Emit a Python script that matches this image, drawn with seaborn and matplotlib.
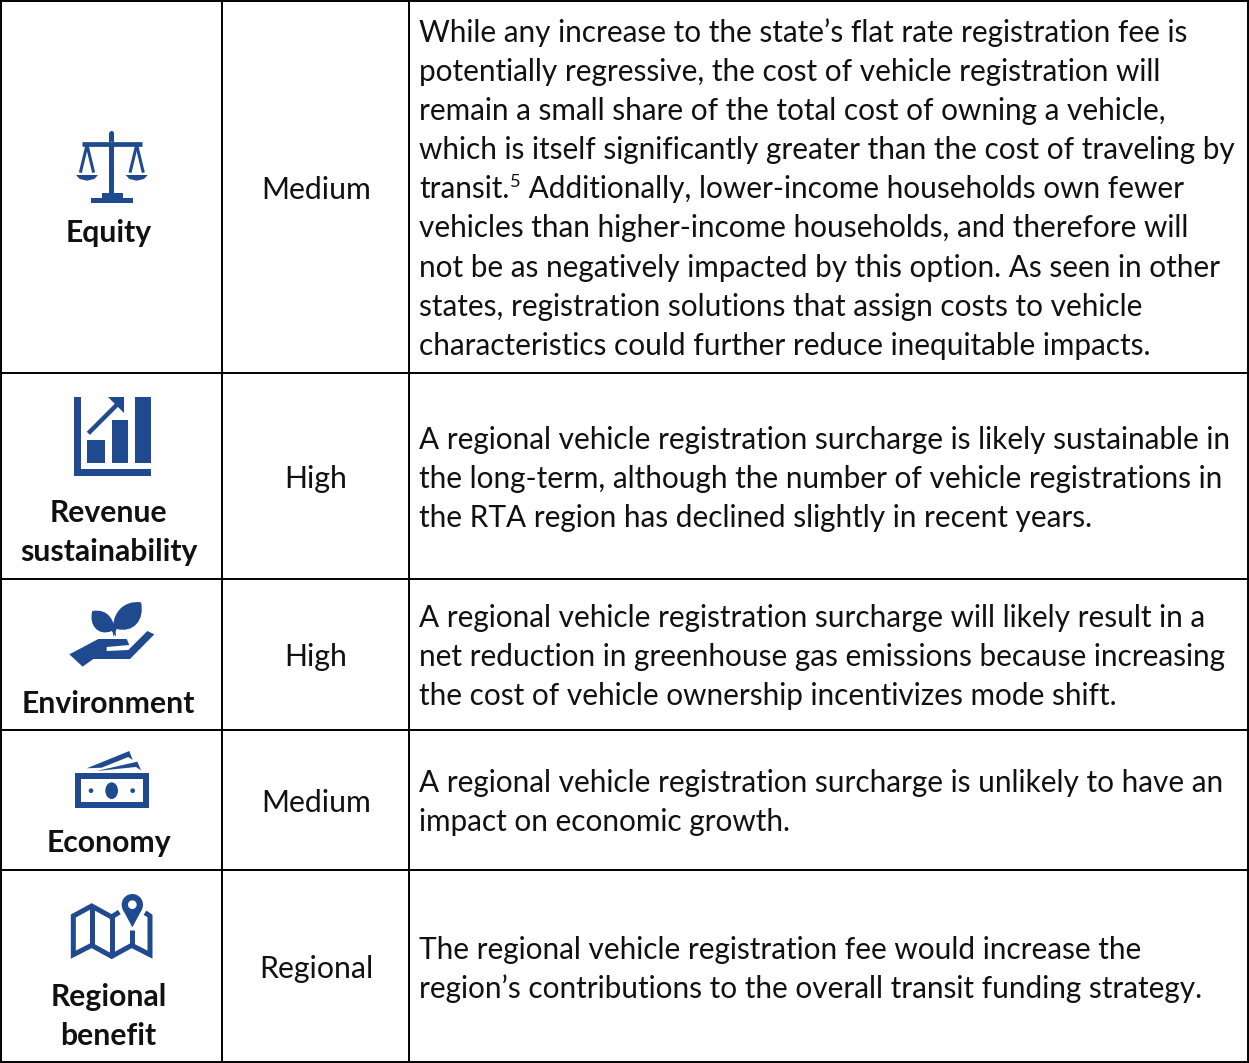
import matplotlib
matplotlib.use("Agg")
import matplotlib.pyplot as plt
import seaborn as sns
from matplotlib.patches import Polygon, Circle, Ellipse, PathPatch
from matplotlib.path import Path

criteria = [["Equity"], ["Revenue", "sustainability"], ["Environment"], ["Economy"], ["Regional", "benefit"]]
ratings = ["Medium", "High", "High", "Medium", "Regional"]
notes = [
    ["While any increase to the state’s flat rate registration fee is",
     "potentially regressive, the cost of vehicle registration will",
     "remain a small share of the total cost of owning a vehicle,",
     "which is itself significantly greater than the cost of traveling by",
     "transit.",
     "vehicles than higher-income households, and therefore will",
     "not be as negatively impacted by this option. As seen in other",
     "states, registration solutions that assign costs to vehicle",
     "characteristics could further reduce inequitable impacts."],
    ["A regional vehicle registration surcharge is likely sustainable in",
     "the long-term, although the number of vehicle registrations in",
     "the RTA region has declined slightly in recent years."],
    ["A regional vehicle registration surcharge will likely result in a",
     "net reduction in greenhouse gas emissions because increasing",
     "the cost of vehicle ownership incentivizes mode shift."],
    ["A regional vehicle registration surcharge is unlikely to have an",
     "impact on economic growth."],
    ["The regional vehicle registration fee would increase the",
     "region’s contributions to the overall transit funding strategy."],
]
footnote = "5"
after_footnote = " Additionally, lower-income households own fewer"

row_edges = [1, 373, 579, 730, 870, 1062]
col_edges = [1, 222, 409, 1248]
note_baselines = [42, 449, 627, 792, 959]
label_baselines = [242, 522, 713, 852, 1006]
rating_baselines = [199, 488, 666, 812, 978]
PITCH = 39.1
BLUE = "#1f4a8f"
BLACK = "#111111"

sns.set_theme(style="white")
plt.rcParams["font.family"] = ["Lato", "DejaVu Sans"]

fig, ax = plt.subplots(figsize=(12.49, 10.63), dpi=100)
ax.set_position([0, 0, 1, 1])
ax.set_xlim(0, 1249)
ax.set_ylim(1063, 0)
ax.axis("off")

# table rules
ax.hlines(row_edges, 0, 1249, color="black", lw=1.4)
ax.vlines(col_edges, 0, 1063, color="black", lw=1.4)

FS = 21.4
for i, lines in enumerate(notes):
    for j, line in enumerate(lines):
        y = note_baselines[i] + j * PITCH
        t = ax.text(419, y, line, fontsize=FS, color=BLACK, va="baseline")
        if i == 0 and line == "transit.":
            r = fig.canvas.get_renderer()
            x1 = ax.transData.inverted().transform(t.get_window_extent(r).get_points())[1, 0]
            fn = ax.text(x1 + 1, y - 11, footnote, fontsize=FS * 0.62, color=BLACK, va="baseline")
            x2 = ax.transData.inverted().transform(fn.get_window_extent(r).get_points())[1, 0]
            ax.text(x2, y, after_footnote, fontsize=FS, color=BLACK, va="baseline")

for i, rating in enumerate(ratings):
    ax.text(316, rating_baselines[i], rating, fontsize=21.8, color=BLACK, ha="center", va="baseline")

for i, label in enumerate(criteria):
    for j, line in enumerate(label):
        ax.text(108.5, label_baselines[i] + j * PITCH, line, fontsize=21.7, fontweight="bold", color=BLACK, ha="center", va="baseline")


# icons, drawn in the 3x space of the crops
def to_px(pts, x0, y0):
    return [(x0 + a / 3, y0 + b / 3) for a, b in pts]

def poly(pts, x0, y0, fc=BLUE):
    ax.add_patch(Polygon(to_px(pts, x0, y0), closed=True, fc=fc, ec="none"))

def box(x1, y1, x2, y2, x0, y0, fc=BLUE):
    poly([(x1, y1), (x2, y1), (x2, y2), (x1, y2)], x0, y0, fc)

def stroke(pts, x0, y0, lw=3.6):
    xy = to_px(pts, x0, y0)
    ax.plot([p[0] for p in xy], [p[1] for p in xy], color=BLUE, lw=lw, solid_joinstyle="miter", solid_capstyle="butt")

def curve(verts, codes, x0, y0):
    ax.add_patch(PathPatch(Path(to_px(verts, x0, y0), codes), fc=BLUE, ec="none"))

# scales
x0, y0 = 60, 120
box(148, 38, 162, 235, x0, y0)
ax.add_patch(Circle((x0 + 155 / 3, y0 + 40 / 3), 7 / 3, fc=BLUE, ec="none"))
stroke([(65, 71), (247, 71)], x0, y0, lw=3.4)
ax.add_patch(Circle((x0 + 155 / 3, y0 + 71 / 3), 6 / 3, fc="white", ec="none"))
box(125, 220, 190, 235, x0, y0)
box(92, 233, 220, 248, x0, y0)
for cx in [81, 230]:
    stroke([(cx, 75), (cx - 20, 158)], x0, y0, lw=2.2)
    stroke([(cx, 75), (cx + 20, 158)], x0, y0, lw=2.2)
    poly([(cx - 33, 165), (cx + 33, 165), (cx + 22, 177), (cx, 182), (cx - 22, 177)], x0, y0)

# bars and arrow
x0, y0 = 60, 390
box(42, 22, 62, 258, x0, y0)
box(42, 238, 274, 258, x0, y0)
box(82, 150, 134, 218, x0, y0)
box(155, 91, 204, 218, x0, y0)
box(224, 22, 274, 218, x0, y0)
stroke([(85, 130), (178, 37)], x0, y0, lw=3.2)
poly([(145, 22), (192, 22), (192, 68)], x0, y0)

# hand and plant
x0, y0 = 60, 595
poly([(28, 178), (115, 132), (200, 132), (208, 150), (140, 156), (140, 168), (205, 165), (262, 108),
      (283, 118), (210, 192), (100, 192), (68, 215)], x0, y0)
M, C = Path.MOVETO, Path.CURVE4
curve([(168, 125), (165, 75), (145, 40), (97, 48), (85, 90), (115, 125), (155, 108)], [M, C, C, C, C, C, C], x0, y0)
curve([(160, 125), (150, 55), (190, 15), (243, 22), (255, 75), (220, 115), (170, 102)], [M, C, C, C, C, C, C], x0, y0)

# banknotes
x0, y0 = 60, 745
box(46, 85, 267, 188, x0, y0)
box(62, 103, 250, 170, x0, y0, fc="white")
ax.add_patch(Ellipse((x0 + 155 / 3, y0 + 137 / 3), 38 / 3, 50 / 3, fc=BLUE, ec="none"))
for cx in [93, 218]:
    ax.add_patch(Circle((x0 + cx / 3, y0 + 137 / 3), 7 / 3, fc=BLUE, ec="none"))
poly([(80, 70), (208, 18), (218, 45), (205, 36), (125, 68)], x0, y0)
poly([(110, 78), (232, 50), (243, 76), (228, 66)], x0, y0)

# map and pin
x0, y0 = 60, 888
stroke([(178, 72), (155, 87), (95, 54), (40, 84), (40, 200), (95, 172), (155, 205), (215, 172), (270, 200),
        (270, 84), (255, 74)], x0, y0)
stroke([(95, 54), (95, 172)], x0, y0)
stroke([(155, 87), (155, 205)], x0, y0)
stroke([(215, 125), (215, 172)], x0, y0)
ax.add_patch(Circle((x0 + 217 / 3, y0 + 50 / 3), 32 / 3, fc=BLUE, ec="none"))
poly([(187, 62), (247, 62), (217, 118)], x0, y0)
ax.add_patch(Circle((x0 + 217 / 3, y0 + 50 / 3), 13 / 3, fc="white", ec="none"))

fig.savefig("out.png", dpi=100)
